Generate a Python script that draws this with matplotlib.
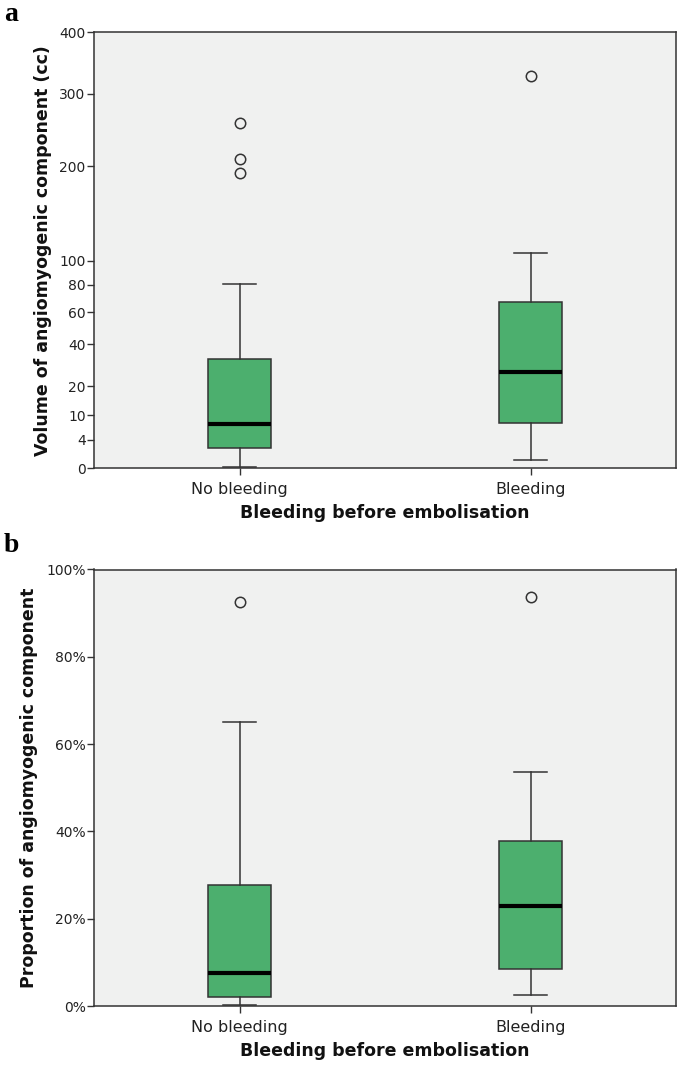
import numpy as np
import matplotlib
matplotlib.use("Agg")
import matplotlib.pyplot as plt
from matplotlib.ticker import FixedLocator, FuncFormatter

# ---- data ----
categories = ["No bleeding", "Bleeding"]

# Panel a: volume of angiomyogenic component (cc)
vol_whislo = [0.1, 0.85]
vol_q1 = [2.5, 7.9]
vol_med = [7.6, 25.9]
vol_q3 = [32.1, 66.9]
vol_whishi = [80.8, 107.3]
vol_fliers = [[257, 209, 192], [328]]
vol_ticks = [0, 4, 10, 20, 40, 60, 80, 100, 200, 300, 400]

# Panel b: proportion of angiomyogenic component (%)
prop_whislo = [0.2, 2.45]
prop_q1 = [2.1, 8.4]
prop_med = [7.5, 23.0]
prop_q3 = [27.8, 37.7]
prop_whishi = [65.1, 53.6]
prop_fliers = [[92.5], [93.8]]
prop_ticks = [0, 20, 40, 60, 80, 100]

xlabel = "Bleeding before embolisation"
ylabel_a = "Volume of angiomyogenic component (cc)"
ylabel_b = "Proportion of angiomyogenic component"

# ---- style ----
GREEN = "#4caf6e"
BG = "#f0f1f0"
EDGE = "#333333"

fig = plt.figure(figsize=(6.85, 10.67), dpi=100)
W, H = 685, 1067


def ax_rect(x0, y0, x1, y1):
    return [x0 / W, 1 - y1 / H, (x1 - x0) / W, (y1 - y0) / H]


ax_a = fig.add_axes(ax_rect(94, 32.3, 676, 468.3))
ax_b = fig.add_axes(ax_rect(94, 569.5, 676, 1006))


def draw(ax, whislo, q1, med, q3, whishi, fliers):
    stats = []
    for i in range(len(categories)):
        stats.append(dict(label=categories[i], whislo=whislo[i], q1=q1[i], med=med[i],
                          q3=q3[i], whishi=whishi[i], fliers=fliers[i]))
    ax.bxp(stats, positions=[1, 2], widths=0.216, capwidths=0.11, patch_artist=True,
           boxprops=dict(facecolor=GREEN, edgecolor=EDGE, linewidth=1.1),
           medianprops=dict(color="black", linewidth=3.0, solid_capstyle="butt"),
           whiskerprops=dict(color=EDGE, linewidth=1.1),
           capprops=dict(color=EDGE, linewidth=1.1),
           flierprops=dict(marker="o", markerfacecolor="none", markeredgecolor=EDGE,
                           markersize=7.5, markeredgewidth=1.1),
           zorder=3)
    ax.set_facecolor(BG)
    ax.set_xlim(0.5, 2.5)
    for s in ax.spines.values():
        s.set_color(EDGE)
        s.set_linewidth(1.1)
    ax.tick_params(axis="both", direction="out", length=5, width=1.0, color=EDGE,
                   labelsize=10, labelcolor="#222222", pad=1)
    ax.tick_params(axis="x", labelsize=11.5, pad=5)
    ax.set_xticks([1, 2])
    ax.set_xticklabels(categories)
    ax.set_xlabel(xlabel, fontsize=12.5, fontweight="bold", color="#111111", labelpad=5)


draw(ax_a, vol_whislo, vol_q1, vol_med, vol_q3, vol_whishi, vol_fliers)
ax_a.set_yscale("function", functions=(lambda v: np.sqrt(np.maximum(np.asarray(v, float) + 1, 0)),
                                      lambda y: np.asarray(y, float) ** 2 - 1))
ax_a.set_ylim(0, 400)
ax_a.yaxis.set_major_locator(FixedLocator(vol_ticks))
ax_a.yaxis.set_minor_locator(FixedLocator([]))
ax_a.yaxis.set_major_formatter(FuncFormatter(lambda v, p: f"{v:.0f}"))
ax_a.set_ylabel(ylabel_a, fontsize=12.5, fontweight="bold", color="#111111", labelpad=5)

draw(ax_b, prop_whislo, prop_q1, prop_med, prop_q3, prop_whishi, prop_fliers)
ax_b.set_ylim(0, 100)
ax_b.set_yticks(prop_ticks)
ax_b.yaxis.set_major_formatter(FuncFormatter(lambda v, p: f"{v:.0f}%"))
ax_b.set_ylabel(ylabel_b, fontsize=12.5, fontweight="bold", color="#111111", labelpad=6)

fig.text(4 / W, 1 - 21 / H, "a", fontsize=20, fontweight="bold", family="Liberation Serif")
fig.text(4 / W, 1 - 552 / H, "b", fontsize=20, fontweight="bold", family="Liberation Serif")

fig.savefig("out.png", dpi=100)
